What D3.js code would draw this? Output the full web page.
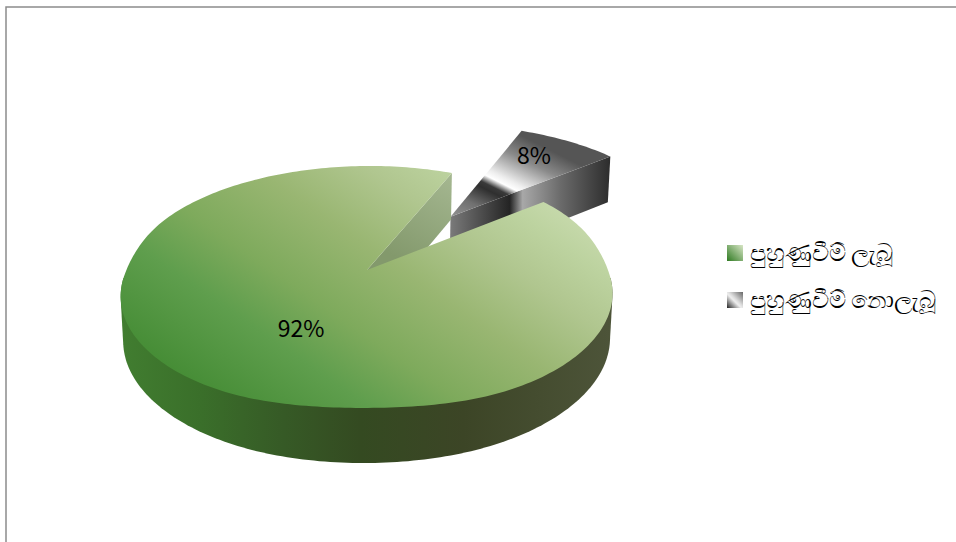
<!DOCTYPE html>
<html>
<head>
<meta charset="utf-8">
<script src="https://cdn.jsdelivr.net/npm/d3@7"></script>
<style>
  html, body { margin: 0; padding: 0; background: #fff; }
  svg { display: block; }
  text { font-family: "Noto Sans CJK SC", "Noto Sans", "DejaVu Sans", sans-serif; fill: #000; }
</style>
</head>
<body>
<div id="chart"></div>
<script>
// Data
var categories = ["පුහුණුවීම් ලැබූ", "පුහුණුවීම් නොලැබූ"];
var values = [92, 8];
var labels = ["92%", "8%"];

var width = 956, height = 542;

var svg = d3.select("#chart").append("svg")
    .attr("width", width)
    .attr("height", height);

// Frame, only the top and left edges show in the picture
svg.append("path")
    .attr("d", "M6,542V7H956")
    .attr("fill", "none")
    .attr("stroke", "#8c8c8c")
    .attr("stroke-width", 1.5);

var defs = svg.append("defs");

function addGradient(id, x1, y1, x2, y2, stops, units) {
    var g = defs.append("linearGradient").attr("id", id)
        .attr("gradientUnits", units || "userSpaceOnUse")
        .attr("x1", x1).attr("y1", y1).attr("x2", x2).attr("y2", y2);
    stops.forEach(function(s) {
        g.append("stop").attr("offset", s[0]).attr("stop-color", s[1]);
    });
}

addGradient("greenTop", 180, 375, 382, 84, [[0, "#468d36"], [0.23, "#5f9e4d"], [0.39, "#7eaa5c"], [0.6, "#99b672"], [0.78, "#b0c68f"], [0.92, "#bdd3a0"], [1, "#c6d9ab"]]);
addGradient("greenSide", 122, 0, 610, 0, [[0, "#417d30"], [0.16, "#3a6f2a"], [0.33, "#365a26"], [0.49, "#344a21"], [0.7, "#3c4526"], [1, "#4d5439"]]);
addGradient("greenInner", 400, 260, 453, 172, [[0, "#83996c"], [1, "#a6b892"]]);
addGradient("greyTop", 464, 222, 510, 130, [[0, "#909090"], [0.2, "#707070"], [0.38, "#2f2f2f"], [0.43, "#3a3a3a"], [0.5, "#ffffff"], [0.56, "#eeeeee"], [0.8, "#8a8a8a"], [1, "#555555"]]);
addGradient("greySide", 449, 0, 609, 0, [[0, "#7c7c7c"], [0.38, "#242424"], [0.41, "#555555"], [0.46, "#a8a8a8"], [0.7, "#6a6a6a"], [1, "#2e2e2e"]]);
addGradient("swatchGreen", 0, 1, 1, 0, [[0, "#2f7a22"], [1, "#d8e6c6"]], "objectBoundingBox");
addGradient("swatchGrey", 0, 1, 1, 0, [[0, "#222"], [0.45, "#eee"], [0.55, "#ddd"], [1, "#666"]], "objectBoundingBox");

// Perspective projection of the unit disc, top face and bottom face
var persp = 0.14, skew = 0.012;
var topFace = {x0: 367, y0: 270, rx: 243.5, ry: 118.6, bulge: 8};
var bottomFace = {x0: 367, y0: 320, rx: 241, ry: 123, bulge: 2};

function project(face, X, Y) {
    var w = 1 + persp * Y;
    return [face.x0 + face.rx * (X + skew * Y) / w, face.y0 - face.ry * Y / w];
}

// The big slice's rim sags a little at the sides and front in the picture
function sag(c) {
    if (c > 0) return Math.exp(-(c / 0.3) * (c / 0.3));
    return (1 - 0.3 * c * c) * (1 - Math.pow(-c, 12));
}

function rimPoints(face, a0, a1, off, bulge) {
    var n = Math.ceil((a1 - a0) / 0.02);
    return d3.range(n + 1).map(function(i) {
        var a = a0 + (a1 - a0) * i / n;
        var p = project(face, off[0] + Math.sin(a), off[1] + Math.cos(a));
        if (bulge) p[1] += face.bulge * sag(Math.cos(a));
        return p;
    });
}

var pie = d3.pie().sort(null)
    .startAngle(51.3 * Math.PI / 180)
    .endAngle(51.3 * Math.PI / 180 + 2 * Math.PI);
var arcs = pie(values);

var explode = [0, 0.6];
var line = d3.line();

// Small slice first, the big slice is painted over it
[1, 0].forEach(function(i) {
    var d = arcs[i];
    var mid = (d.startAngle + d.endAngle) / 2;
    var off = [explode[i] * Math.sin(mid), explode[i] * Math.cos(mid)];
    var apexT = project(topFace, off[0], off[1]);
    var apexB = project(bottomFace, off[0], off[1]);
    var topRim = rimPoints(topFace, d.startAngle, d.endAngle, off, i === 0);
    var botRim = rimPoints(bottomFace, d.startAngle, d.endAngle, off, i === 0);
    var g = svg.append("g");

    // Cut face that looks at the viewer
    g.append("path")
        .attr("d", line([apexT, topRim[topRim.length - 1], botRim[botRim.length - 1], apexB]) + "Z")
        .attr("fill", i === 0 ? "url(#greenInner)" : "url(#greySide)");

    if (i === 0) {
        // Outer wall, front part only so it stays out of the notch.
        // The hull gives the straight silhouette at both sides
        var frontTop = rimPoints(topFace, Math.PI * 0.5, Math.PI * 1.5, off, true);
        var frontBot = rimPoints(bottomFace, Math.PI * 0.5, Math.PI * 1.5, off, true);
        g.append("path")
            .attr("d", line(d3.polygonHull(frontTop.concat(frontBot))) + "Z")
            .attr("fill", "url(#greenSide)");
    }

    g.append("path")
        .attr("d", line([apexT].concat(topRim)) + "Z")
        .attr("fill", i === 0 ? "url(#greenTop)" : "url(#greyTop)");
});

// Value labels
var labelPos = [[301, 329], [534, 156]];
svg.selectAll(".value")
    .data(labels)
    .join("text")
    .attr("class", "value")
    .attr("x", function(d, i) { return labelPos[i][0]; })
    .attr("y", function(d, i) { return labelPos[i][1]; })
    .attr("dy", ".35em")
    .attr("text-anchor", "middle")
    .attr("font-size", 23)
    .text(function(d) { return d; });

// Legend
var legend = svg.selectAll(".legend")
    .data(categories)
    .join("g")
    .attr("class", "legend")
    .attr("transform", function(d, i) { return "translate(727," + (245 + i * 47) + ")"; });

legend.append("rect")
    .attr("width", 16)
    .attr("height", 16)
    .attr("fill", function(d, i) { return i === 0 ? "url(#swatchGreen)" : "url(#swatchGrey)"; });

legend.append("text")
    .attr("x", 23)
    .attr("y", 8)
    .attr("dy", ".35em")
    .attr("font-size", 23.5)
    .text(function(d) { return d; });
</script>
</body>
</html>
